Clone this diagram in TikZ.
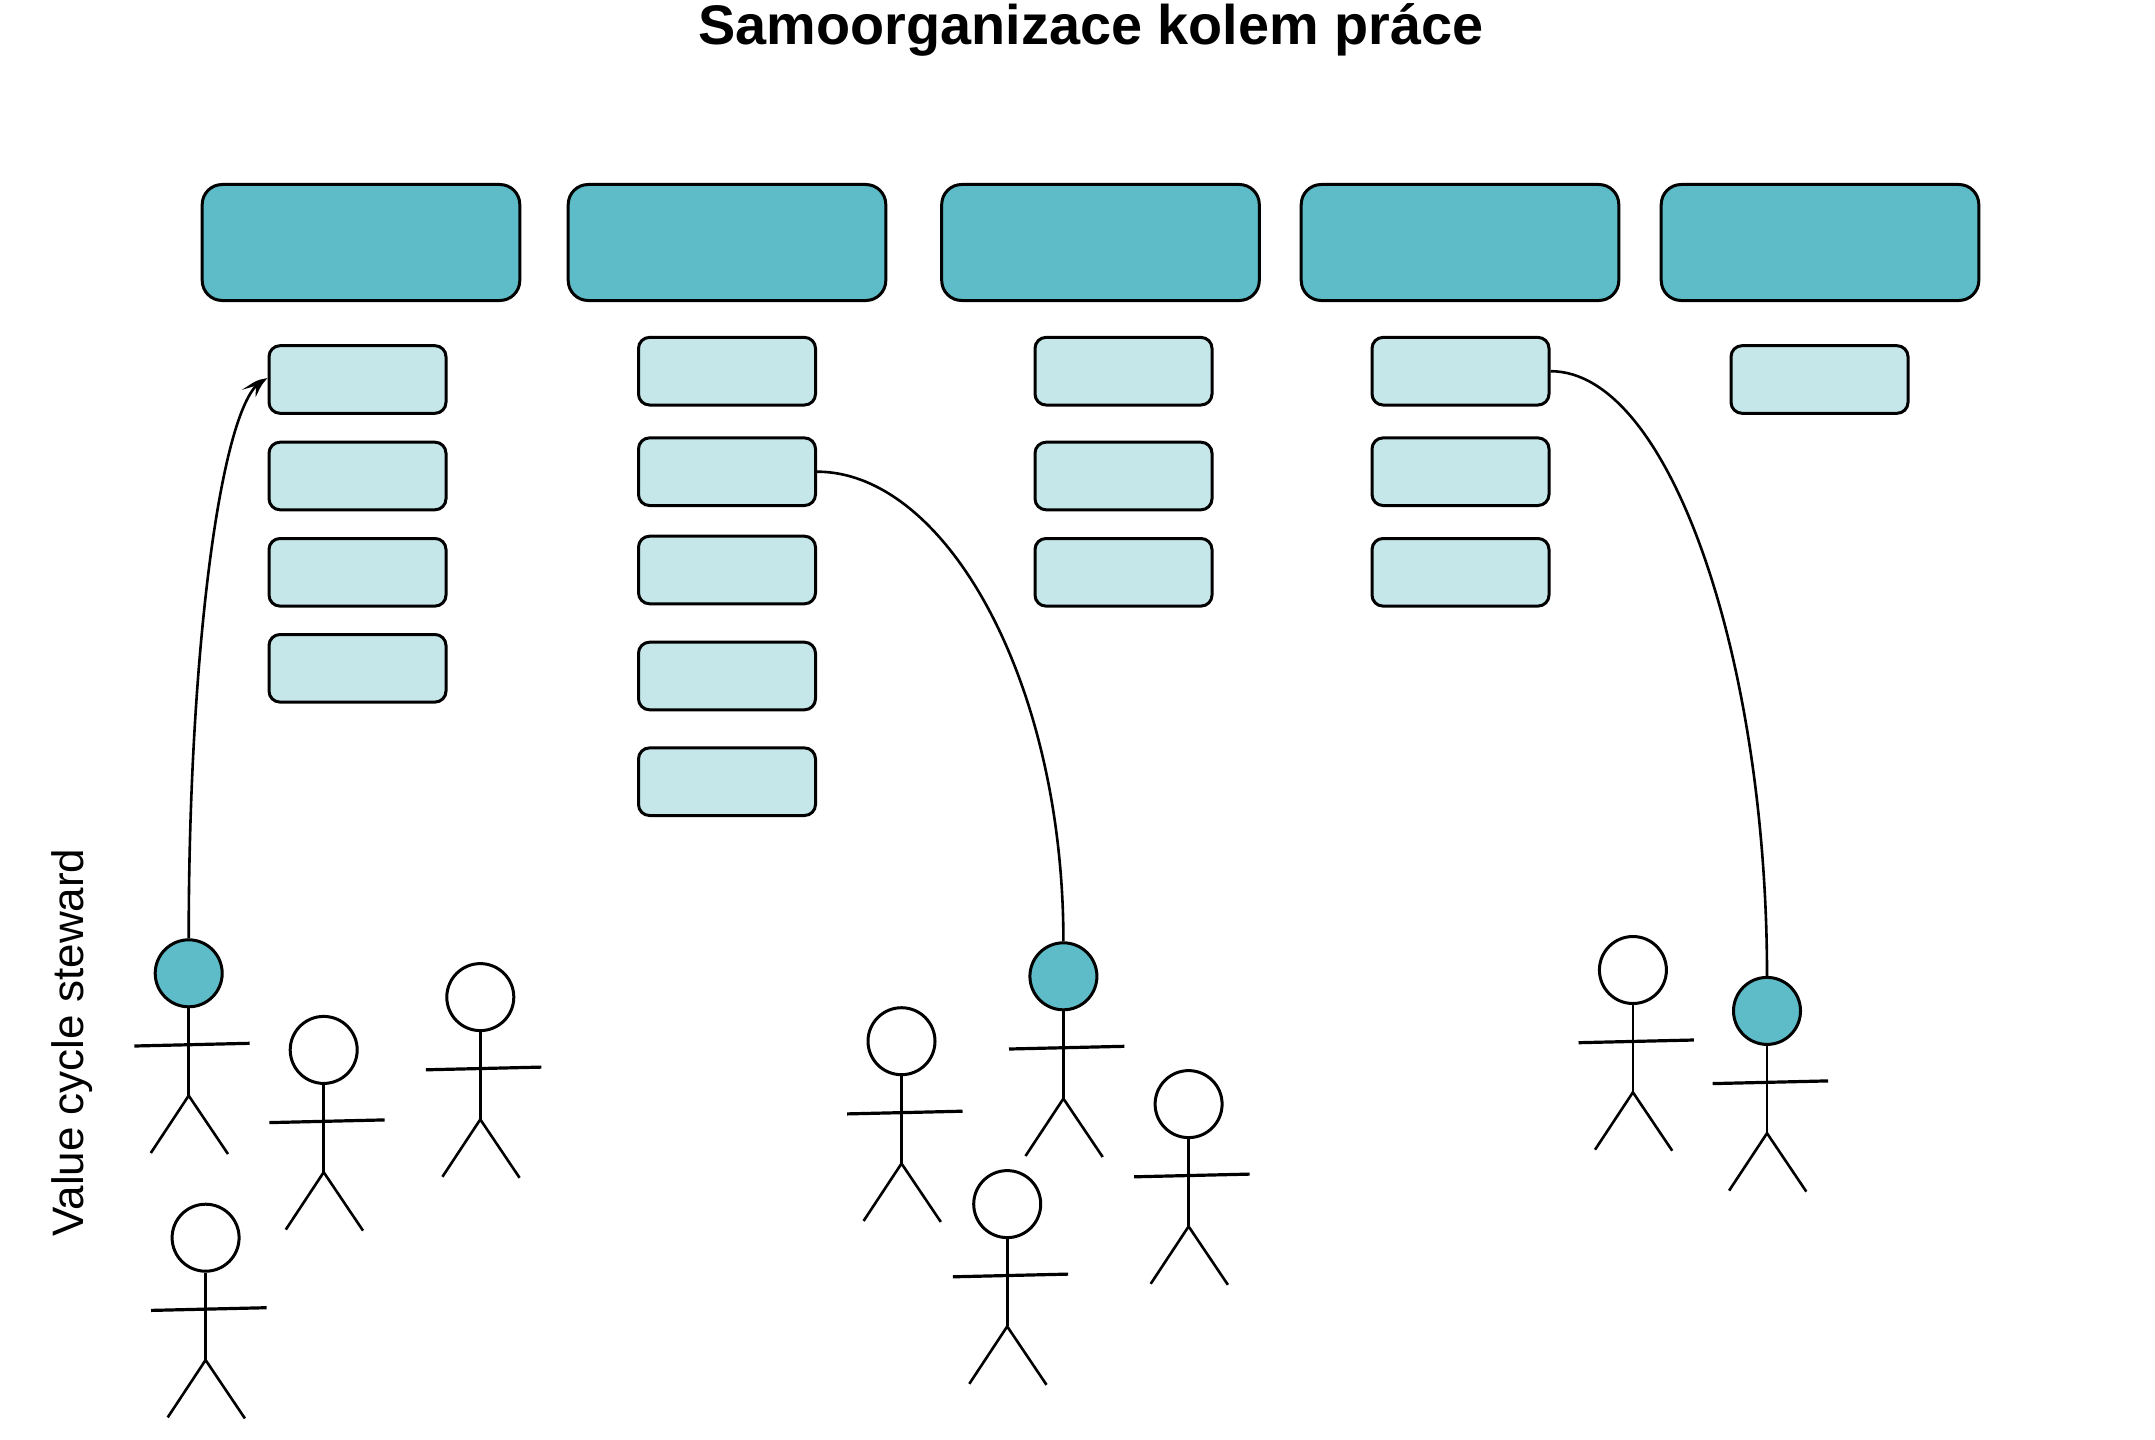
\documentclass[tikz,border=0pt]{standalone}
\usepackage{fontspec}
\setmainfont{Liberation Sans}
\usetikzlibrary{arrows.meta,bending,shapes.geometric}
\definecolor{tealbox}{HTML}{5DBCC7}
\definecolor{lightbox}{HTML}{C6E7EA}
\tikzset{
  bigbox/.style={draw=black,fill=tealbox,line width=1.5pt,rounded corners=10pt,minimum width=158.8pt,minimum height=58pt,inner sep=0pt},
  smallbox/.style={draw=black,fill=lightbox,line width=1.5pt,rounded corners=5.5pt,minimum width=88.5pt,minimum height=33.8pt,inner sep=0pt},
  headshape/.style={draw=black,circle,line width=1.5pt,minimum size=33.5pt,inner sep=0pt},
  limb/.style={draw=black,line width=1.3pt},
  arm/.style={draw=black,line width=1.6pt},
  conn/.style={draw=black,line width=1.3pt}
}
\newcommand{\stickman}[4]{%
  \node[headshape,fill=#4] (#1) at (#2,#3-0.7) {};
  \coordinate (#1hip) at (#2,#3+121.6);
  \coordinate (#1al) at (#2-54.4,#3+72);
  \coordinate (#1ar) at (#2+61,#3+69.3);
  \coordinate (#1ll) at (#2-37.9,#3+179);
  \coordinate (#1lr) at (#2+39.3,#3+180);
  \draw[limb] (#1.south) -- (#1hip);
  \draw[arm] (#1al) -- (#1ar);
  \draw[limb] (#1ll) -- (#1hip) -- (#1lr);
}
\begin{document}
\begin{tikzpicture}[x=0.5pt,y=-0.5pt]
\useasboundingbox (0,0) rectangle (2155,1439);
\node[anchor=base,font=\fontsize{27.9pt}{30pt}\selectfont\bfseries] (title) at (1091,45) {Samoorganizace kolem práce};
\node[anchor=base,rotate=90,font=\fontsize{22pt}{26pt}\selectfont] (vcs) at (83,1042.5) {Value cycle steward};
\node[bigbox] (b1) at (361,242.5) {};
\node[bigbox] (b2) at (727,242.5) {};
\node[bigbox] (b3) at (1100.5,242.5) {};
\node[bigbox] (b4) at (1460,242.5) {};
\node[bigbox] (b5) at (1820,242.5) {};
\node[smallbox] (c1a) at (357.5,379.5) {};
\node[smallbox] (c1b) at (357.5,476) {};
\node[smallbox] (c1c) at (357.5,572.3) {};
\node[smallbox] (c1d) at (357.5,668.3) {};
\node[smallbox] (c2a) at (727,371.2) {};
\node[smallbox] (c2b) at (727,471.7) {};
\node[smallbox] (c2c) at (727,570) {};
\node[smallbox] (c2d) at (727,676) {};
\node[smallbox] (c2e) at (727,781.7) {};
\node[smallbox] (c3a) at (1123.5,371.2) {};
\node[smallbox] (c3b) at (1123.5,476) {};
\node[smallbox] (c3c) at (1123.5,572.3) {};
\node[smallbox] (c4a) at (1460.5,371.2) {};
\node[smallbox] (c4b) at (1460.5,471.7) {};
\node[smallbox] (c4c) at (1460.5,572.3) {};
\node[smallbox] (c5a) at (1819.5,379.5) {};
\stickman{pa}{188.7}{974}{tealbox}
\stickman{pb}{323.7}{1050.6}{white}
\stickman{pc}{480.3}{997.8}{white}
\stickman{pd}{205.6}{1238.4}{white}
\stickman{pe}{1063.4}{977}{tealbox}
\stickman{pf}{901.5}{1041.9}{white}
\stickman{pg}{1007.2}{1204.8}{white}
\stickman{ph}{1188.6}{1104.8}{white}
\stickman{pi}{1632.9}{970.7}{white}
\stickman{pj}{1767}{1011.6}{tealbox}
\draw[conn,-{Stealth[length=9.5pt,width=7.5pt,inset=3.5pt,bend]}] (pa.north) .. controls (188.7,632) and (225,380) .. (c1a.west);
\draw[conn] (c2b.east) .. controls (945,471.7) and (1063.4,680) .. (pe.north);
\draw[conn] (c4a.east) .. controls (1670,371) and (1767,660) .. (pj.north);
\end{tikzpicture}
\end{document}
